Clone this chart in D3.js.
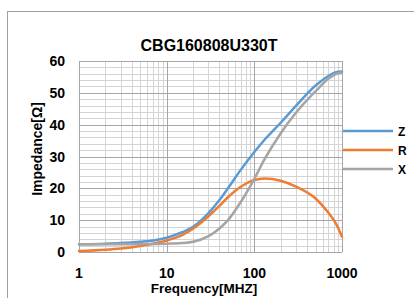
<!DOCTYPE html>
<html>
<head>
<meta charset="utf-8">
<script src="https://cdn.jsdelivr.net/npm/d3@7"></script>
<style>
  body { margin: 0; background: #fff; }
  svg { display: block; }
  text { font-family: "Liberation Sans", Arial, sans-serif; font-weight: bold; fill: #000; }
</style>
</head>
<body>
<svg width="414" height="298"></svg>
<script>
var freq = [1, 2, 3, 5, 7, 10, 15, 20, 30, 40, 50, 70, 100, 130, 200, 300, 500, 700, 850, 1000];
var zVals = [2.4, 2.6, 2.8, 3.2, 3.6, 4.5, 6.2, 7.9, 12.2, 16.3, 20.0, 25.8, 31.4, 35.2, 40.6, 46.0, 52.3, 55.3, 56.5, 56.7];
var rVals = [0.3, 0.7, 1.1, 1.9, 2.6, 3.6, 5.3, 7.3, 11.2, 14.5, 17.2, 20.5, 22.6, 23.1, 22.4, 20.5, 16.8, 12.3, 9.0, 4.8];
var xVals = [2.4, 2.4, 2.4, 2.5, 2.5, 2.6, 2.8, 3.2, 5.0, 7.4, 10.0, 15.7, 23.0, 29.0, 37.3, 43.8, 50.5, 54.4, 55.9, 56.4];
var seriesNames = ["Z", "R", "X"];
var seriesColors = ["#5b9bd5", "#ed7d31", "#a5a5a5"];
var xTicks = [1, 10, 100, 1000];
var yTicks = [0, 10, 20, 30, 40, 50, 60];

var svg = d3.select("svg");
var pLeft = 79, pRight = 342, pTop = 61, pBottom = 252;

var x = d3.scaleLog().domain([1, 1000]).range([pLeft, pRight]);
var y = d3.scaleLinear().domain([0, 60]).range([pBottom, pTop]);

// outer chart border
svg.append("rect").attr("x", 7.5).attr("y", 11.5).attr("width", 420).attr("height", 300)
  .attr("fill", "#fff").attr("stroke", "#a0a0a0");

// minor grid
var minorX = [];
for (var d = 1; d < 1000; d *= 10) for (var k = 2; k <= 9; k++) minorX.push(d * k);
var minorY = d3.range(0, 61, 2).filter(function(v) { return v % 10 != 0; });
var grid = svg.append("g");
grid.selectAll(".mx").data(minorX).enter().append("line")
  .attr("x1", function(d) { return Math.round(x(d)) + 0.5; })
  .attr("x2", function(d) { return Math.round(x(d)) + 0.5; })
  .attr("y1", pTop).attr("y2", pBottom).attr("stroke", "#d4d4d4");
grid.selectAll(".my").data(minorY).enter().append("line")
  .attr("y1", function(d) { return Math.round(y(d)) + 0.5; })
  .attr("y2", function(d) { return Math.round(y(d)) + 0.5; })
  .attr("x1", pLeft).attr("x2", pRight).attr("stroke", "#d4d4d4");
grid.selectAll(".Mx").data(xTicks).enter().append("line")
  .attr("x1", function(d) { return Math.round(x(d)) + 0.5; })
  .attr("x2", function(d) { return Math.round(x(d)) + 0.5; })
  .attr("y1", pTop).attr("y2", pBottom).attr("stroke", "#a6a6a6");
grid.selectAll(".My").data(yTicks).enter().append("line")
  .attr("y1", function(d) { return Math.round(y(d)) + 0.5; })
  .attr("y2", function(d) { return Math.round(y(d)) + 0.5; })
  .attr("x1", pLeft).attr("x2", pRight).attr("stroke", "#a6a6a6");

// tick labels
svg.selectAll(".yl").data(yTicks).enter().append("text")
  .attr("x", 65).attr("y", function(d) { return y(d) + 5; })
  .attr("text-anchor", "end").attr("font-size", 14).text(function(d) { return d; });
svg.selectAll(".xl").data(xTicks).enter().append("text")
  .attr("x", function(d) { return x(d); }).attr("y", 278)
  .attr("text-anchor", "middle").attr("font-size", 14).text(function(d) { return d; });

// titles
svg.append("text").attr("x", 209).attr("y", 51).attr("text-anchor", "middle")
  .attr("font-size", 16).text("CBG160808U330T");
svg.append("text").attr("x", 204).attr("y", 293).attr("text-anchor", "middle")
  .attr("font-size", 13.5).text("Frequency[MHZ]");
svg.append("text").attr("transform", "translate(42,149) rotate(-90)").attr("text-anchor", "middle")
  .attr("font-size", 14).text("Impedance[Ω]");

// curves
var all = [zVals, rVals, xVals];
var line = d3.line()
  .x(function(d, i) { return x(freq[i]); })
  .y(function(d) { return y(d); })
  .curve(d3.curveMonotoneX);
svg.selectAll(".series").data(all).enter().append("path")
  .attr("d", line).attr("fill", "none")
  .attr("stroke", function(d, i) { return seriesColors[i]; })
  .attr("stroke-width", 2.5).attr("stroke-linecap", "round");

// legend
var legY = [131, 150, 169];
var leg = svg.selectAll(".leg").data(seriesNames).enter().append("g");
leg.append("line").attr("x1", 343).attr("x2", 393)
  .attr("y1", function(d, i) { return legY[i]; }).attr("y2", function(d, i) { return legY[i]; })
  .attr("stroke", function(d, i) { return seriesColors[i]; }).attr("stroke-width", 2.5);
leg.append("text").attr("x", 398).attr("y", function(d, i) { return legY[i] + 4.5; })
  .attr("font-size", 12).text(function(d) { return d; });
</script>
</body>
</html>
